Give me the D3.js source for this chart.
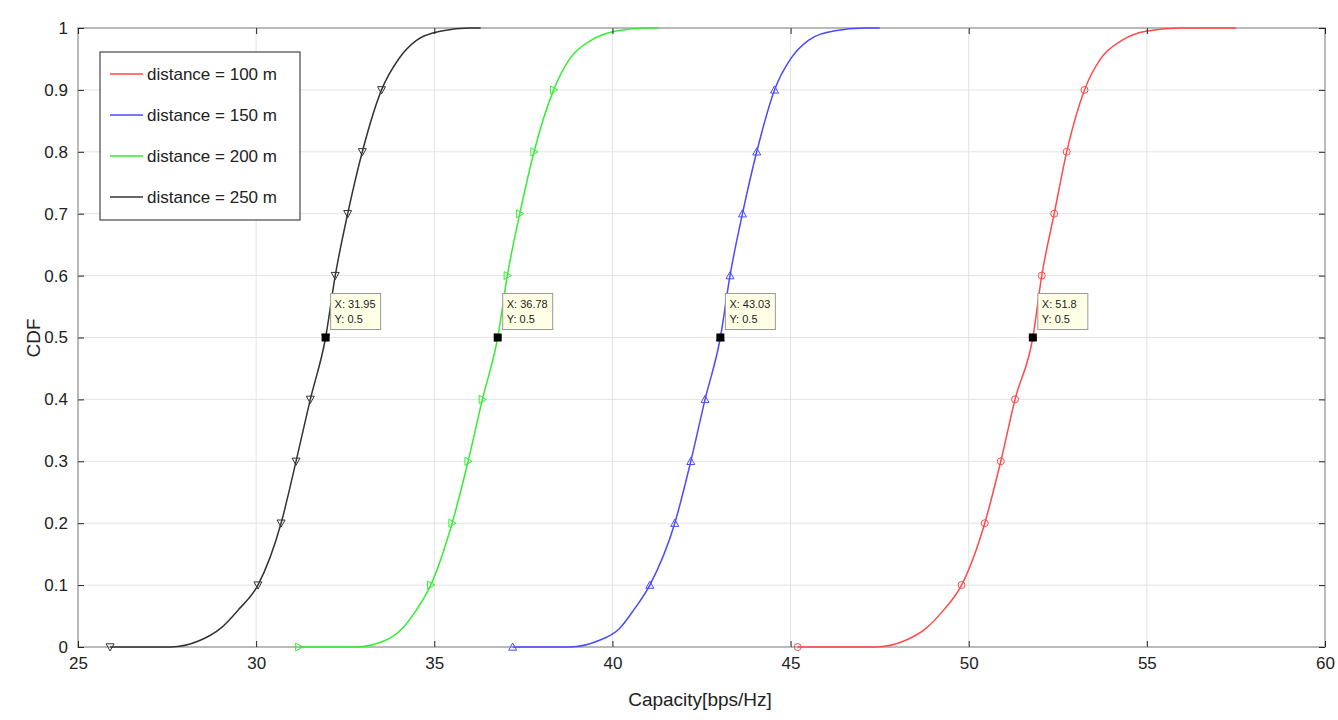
<!DOCTYPE html><html><head><meta charset="utf-8">
<script src="https://cdn.jsdelivr.net/npm/d3@7"></script>
<style>body{margin:0;background:#fff}text{font-family:"Liberation Sans",Arial,sans-serif}</style></head><body>
<svg id="c" width="1338" height="720"></svg>
<script>
const xTicks=[25,30,35,40,45,50,55,60];
const yTicks=[0,0.1,0.2,0.3,0.4,0.5,0.6,0.7,0.8,0.9,1];
const labels=["distance = 100 m","distance = 150 m","distance = 200 m","distance = 250 m"];
const colors=["#ff4a4a","#4a4aff","#33ee33","#333333"];
const markerTypes=["circle","up","right","down"];
const markerY=[0,0.1,0.2,0.3,0.4,0.5,0.6,0.7,0.8,0.9];
// curve points [x, cdf]
const curve100=[[45.2,0],[47.4,0],[48.2,0.01],[48.8,0.03],[49.3,0.06],[49.8,0.1],[50.45,0.2],[50.9,0.3],[51.3,0.4],[51.8,0.5],[52.05,0.6],[52.4,0.7],[52.75,0.8],[53.25,0.9],[53.7,0.95],[54.3,0.98],[55.0,0.995],[56.0,1],[57.5,1]];
const curve150=[[37.2,0],[38.8,0],[39.6,0.01],[40.2,0.03],[40.6,0.06],[41.05,0.1],[41.75,0.2],[42.2,0.3],[42.6,0.4],[43.03,0.5],[43.3,0.6],[43.65,0.7],[44.05,0.8],[44.55,0.9],[45.0,0.95],[45.5,0.98],[46.2,0.995],[47.1,1],[47.5,1]];
const curve200=[[31.2,0],[32.8,0],[33.6,0.01],[34.1,0.03],[34.5,0.06],[34.9,0.1],[35.5,0.2],[35.95,0.3],[36.35,0.4],[36.78,0.5],[37.05,0.6],[37.4,0.7],[37.8,0.8],[38.35,0.9],[38.8,0.95],[39.4,0.98],[40.1,0.995],[41.0,1],[41.3,1]];
const curve250=[[25.9,0],[27.6,0],[28.4,0.01],[29.0,0.03],[29.5,0.06],[30.05,0.1],[30.7,0.2],[31.12,0.3],[31.52,0.4],[31.95,0.5],[32.22,0.6],[32.57,0.7],[32.98,0.8],[33.52,0.9],[34.0,0.95],[34.5,0.98],[35.2,0.995],[36.0,1],[36.3,1]];
const curves=[curve100,curve150,curve200,curve250];
const medians=[51.8,43.03,36.78,31.95];
const tipLabels=[["X: 51.8","Y: 0.5"],["X: 43.03","Y: 0.5"],["X: 36.78","Y: 0.5"],["X: 31.95","Y: 0.5"]];

const svg=d3.select("#c");
const x=d3.scaleLinear().domain([25,60]).range([78,1325]);
const y=d3.scaleLinear().domain([0,1]).range([647,28]);
const g=svg.append("g");
g.append("rect").attr("x",78).attr("y",28).attr("width",1247).attr("height",619).attr("fill","#fff").attr("stroke","#222");
g.selectAll(".gx").data(xTicks).join("line").attr("x1",d=>x(d)).attr("x2",d=>x(d)).attr("y1",28).attr("y2",647).attr("stroke","#e3e3e3");
g.selectAll(".gy").data(yTicks).join("line").attr("y1",d=>y(d)).attr("y2",d=>y(d)).attr("x1",78).attr("x2",1325).attr("stroke","#e3e3e3");
const ax=svg.append("g").attr("transform","translate(0,647)").call(d3.axisBottom(x).tickValues(xTicks).tickSize(-6).tickPadding(10));
const ay=svg.append("g").attr("transform","translate(78,0)").call(d3.axisLeft(y).tickValues(yTicks).tickFormat(d=>d3.format("")(+d.toFixed(1))).tickSize(-6).tickPadding(10));
[ax,ay].forEach(a=>{a.select(".domain").remove();a.selectAll("line").attr("stroke","#222");a.selectAll("text").attr("font-size",17).attr("fill","#222");});
svg.append("g").attr("transform","translate(1325,0)").call(d3.axisRight(y).tickValues(yTicks).tickSize(-6).tickFormat("")).call(a=>{a.select(".domain").remove();a.selectAll("line").attr("stroke","#222")});
svg.append("g").attr("transform","translate(0,28)").call(d3.axisTop(x).tickValues(xTicks).tickSize(-6).tickFormat("")).call(a=>{a.select(".domain").remove();a.selectAll("line").attr("stroke","#222")});
svg.append("text").attr("x",700).attr("y",706).attr("text-anchor","middle").attr("font-size",19).attr("fill","#222").text("Capacity[bps/Hz]");
svg.append("text").attr("transform","translate(40,338) rotate(-90)").attr("text-anchor","middle").attr("font-size",19).attr("fill","#222").text("CDF");
const line=d3.line().x(d=>x(d[0])).y(d=>y(d[1])).curve(d3.curveMonotoneX);
const interp=(c,v)=>{const pts=c.filter((p,i)=>i===0||p[1]>0);for(let i=0;i<pts.length-1;i++){if(v>=pts[i][1]&&v<=pts[i+1][1]){const t=(v-pts[i][1])/(pts[i+1][1]-pts[i][1]||1);return pts[i][0]+t*(pts[i+1][0]-pts[i][0]);}}return pts[0][0];};
function mk(type,s){const h=s;switch(type){case"circle":return null;case"up":return `M0,${-h}L${h},${h*0.8}L${-h},${h*0.8}Z`;case"down":return `M0,${h}L${h},${-h*0.8}L${-h},${-h*0.8}Z`;case"right":return `M${h},0L${-h*0.8},${-h}L${-h*0.8},${h}Z`;}}
curves.forEach((c,i)=>{
  g.append("path").datum(c).attr("d",line).attr("fill","none").attr("stroke",colors[i]).attr("stroke-width",1.5);
  markerY.forEach(v=>{const px=x(v===0?c[0][0]:interp(c,v)),py=y(v);
    if(markerTypes[i]==="circle")g.append("circle").attr("cx",px).attr("cy",py).attr("r",3.5).attr("fill","none").attr("stroke",colors[i]);
    else g.append("path").attr("d",mk(markerTypes[i],4)).attr("transform",`translate(${px},${py})`).attr("fill","none").attr("stroke",colors[i]);});
  const mx=x(medians[i]),my=y(0.5);
  g.append("rect").attr("x",mx-4).attr("y",my-4).attr("width",8).attr("height",8).attr("fill","#000");
  g.append("rect").attr("x",mx+5).attr("y",my-44).attr("width",50).attr("height",36).attr("fill","#ffffe6").attr("stroke","#999");
  tipLabels[i].forEach((t,k)=>g.append("text").attr("x",mx+9).attr("y",my-30+k*15).attr("font-size",11).attr("fill","#222").text(t));
});
const lg=svg.append("g");
lg.append("rect").attr("x",100).attr("y",52).attr("width",200).attr("height",168).attr("fill","#fff").attr("stroke","#222");
labels.forEach((l,i)=>{const yy=74+i*41;
  lg.append("line").attr("x1",110).attr("x2",143).attr("y1",yy).attr("y2",yy).attr("stroke",colors[i]).attr("stroke-width",1.5);
  lg.append("text").attr("x",147).attr("y",yy+6).attr("font-size",17).attr("fill","#222").text(l);});
</script></body></html>
